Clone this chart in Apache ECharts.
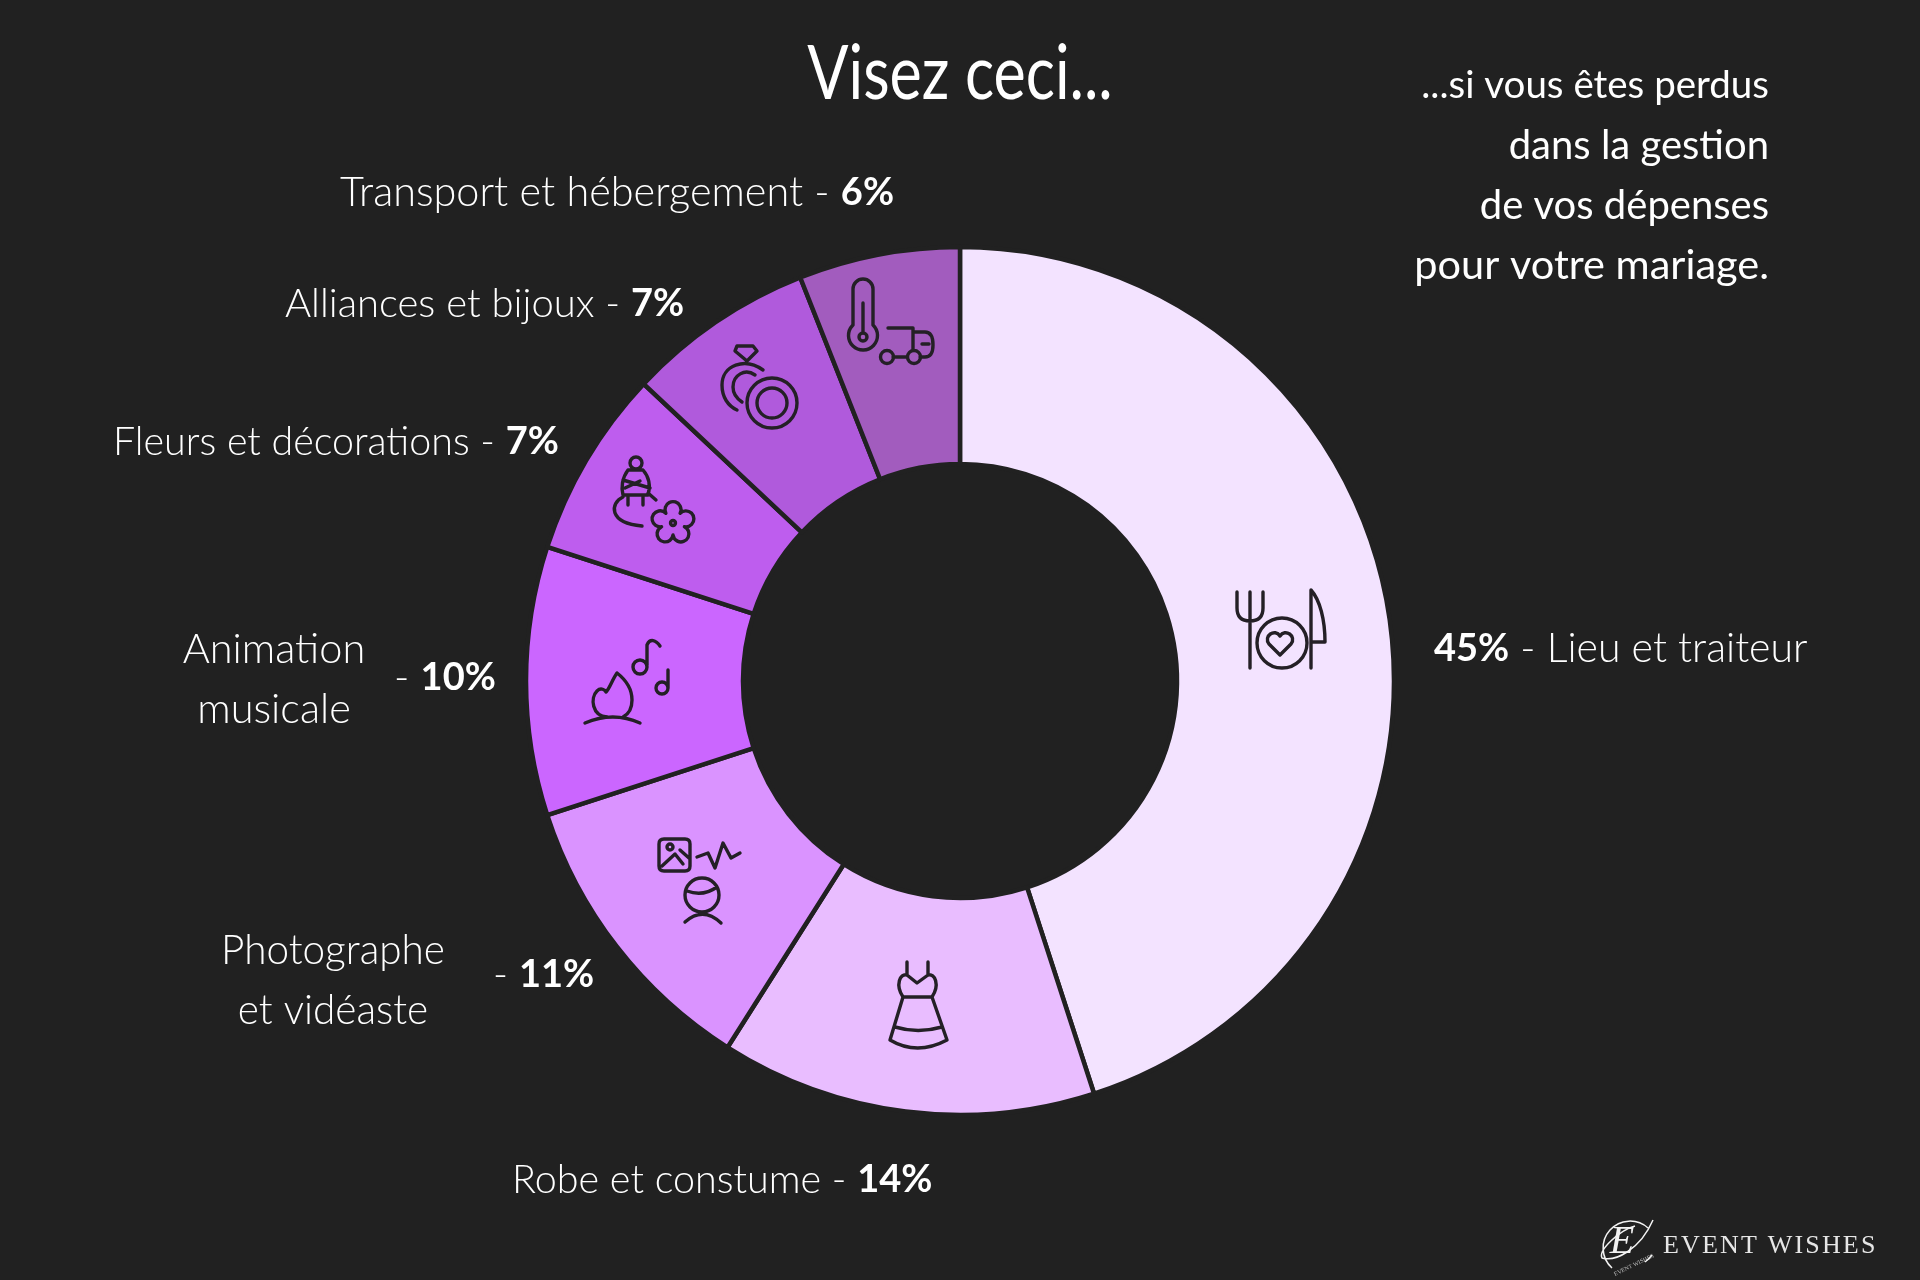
<!DOCTYPE html>
<html>
<head>
<meta charset="utf-8">
<title>Visez ceci...</title>
<script src="https://cdn.jsdelivr.net/npm/echarts@6/dist/echarts.min.js"></script>
<style>
html, body { margin: 0; padding: 0; background: #212121; }
#chart { width: 1920px; height: 1280px; }
</style>
</head>
<body>
<div id="chart"></div>
<script>
// donnees
var categories = ['Lieu et traiteur', 'Robe et constume', 'Photographe\net vidéaste', 'Animation\nmusicale', 'Fleurs et décorations', 'Alliances et bijoux', 'Transport et hébergement'];
var shares = [45, 14, 11, 10, 7, 7, 6];
var sliceColors = ['#f3e3ff', '#e9bdff', '#da93ff', '#cb66ff', '#be5dee', '#b05adc', '#a25cbe'];

// textes
var titleText = 'Visez ceci...';
var noteLines = ['...si vous êtes perdus', 'dans la gestion', 'de vos dépenses', 'pour votre mariage.'];
var noteSizes = [38.5, 40, 40, 41.5];
var brandText = 'EVENT WISHES';

var textFont = 'Lato';
var bgColor = '#212121';
var iconColor = '#242026';

// position des etiquettes : x, y, size, ou name (2 lignes) + x, y du pourcentage
var labelPlaces = [
    {x: 1434, y: 649, size: 41},
    {x: 512, y: 1180, size: 39.5},
    {nameX: 333, nameY: 981, x: 493, y: 975, size: 40.5},
    {nameX: 274, nameY: 680, x: 394, y: 678, size: 41.5},
    {x: 113, y: 442, size: 39.4},
    {x: 285, y: 304, size: 40},
    {x: 340, y: 193, size: 41.4}
];

function circ(cx, cy, r) {
    return 'M' + (cx - r) + ' ' + cy + 'a' + r + ' ' + r + ' 0 1 1 ' + (2 * r) + ' 0a' + r + ' ' + r + ' 0 1 1 ' + (-2 * r) + ' 0Z';
}

// fleur a cinq petales pour l'icone decoration
function flower(cx, cy, R, r) {
    var d = '';
    for (var i = 0; i <= 5; i++) {
        var a = -Math.PI / 2 + Math.PI / 5 + i * 2 * Math.PI / 5;
        var x = (cx + R * Math.cos(a)).toFixed(1);
        var y = (cy + R * Math.sin(a)).toFixed(1);
        d += i === 0 ? 'M' + x + ' ' + y : 'A' + r + ' ' + r + ' 0 1 1 ' + x + ' ' + y;
    }
    return d + 'Z';
}

// pictogrammes poses sur chaque part
var iconPaths = [
    // couverts
    'M1237 592V608Q1237 621 1250 621Q1263 621 1263 608V592M1250 592V668' + circ(1282, 643, 25) +
    'M1280 655L1269 644C1263 636 1275 628 1280 636C1285 628 1297 636 1291 644Z' +
    'M1311 668V590C1320 600 1325 620 1325 642H1313',
    // robe
    'M907 962V975M928 962V975M903 997C895 985 900 973 907 975L917 983L928 975C935 973 940 985 932 997Z' +
    'M903 997L890 1040Q917 1056 947 1040L932 997M895 1027Q918 1034 942 1027',
    // photo
    'M664 839H685Q690 839 690 844V866Q690 871 685 871H664Q659 871 659 866V844Q659 839 664 839Z' + circ(670, 847, 3) +
    'M662 866L675 854L683 864M680 850L689 858' +
    'M697 857L708 853L715 868L723 843L731 858L740 853' + circ(702, 895, 17) +
    'M687 891Q703 897 717 887M685 922Q703 906 721 923',
    // musique
    'M585 723Q613 711 640 723M607 717C592 716 590 698 597 691C601 687 605 690 606 692C610 688 612 680 617 673C626 680 632 690 632 700C632 708 629 714 623 717' +
    circ(640, 667, 7) + 'M647 665V645C650 638 656 640 660 646' + circ(662, 688, 6) + 'M668 688V670',
    // ampoule et fleur
    circ(636, 463, 6) + 'M628 470H643C650 478 650 488 648 495H623C621 488 622 478 628 470ZM623 480L650 488M625 488L640 481' +
    'M628 497V505M643 497V505M648 493L656 500M623 497C610 503 608 523 642 526' +
    flower(673, 523, 12, 8) + circ(673, 523, 2.5),
    // alliances
    'M737 346H753L757 351L747 361L735 351ZM763 370C745 357 722 365 722 385C722 397 728 406 737 410M755 375C745 368 733 375 733 387C733 393 736 398 742 402' +
    circ(772, 403, 25) + circ(772, 403, 15),
    // thermometre et camion
    'M853 325V289A10 10 0 0 1 873 289V325A14.5 14.5 0 1 1 853 325ZM863 303V333' + circ(863, 337, 4) +
    'M888 328H913V350M893 357H907M913 332H925Q933 332 933 345Q933 357 925 357H920M922 344H929' + circ(887, 357, 6.5) + circ(914, 357, 6.5)
];

function percentOf(i) {
    return shares[i] + '%';
}

var graphicItems = [];

function addText(text, x, y, size, weight, align, scaleY) {
    graphicItems.push({
        type: 'text',
        silent: true,
        x: x,
        y: y,
        scaleY: scaleY || 1,
        style: {
            text: text,
            fontFamily: textFont,
            fontWeight: weight,
            fontSize: size,
            fill: '#ffffff',
            align: align,
            verticalAlign: 'middle'
        }
    });
}

addText(titleText, 960, 74, 61, 400, 'center', 1.25);
for (var n = 0; n < noteLines.length; n++) {
    addText(noteLines[n], 1769, 86 + n * 60, noteSizes[n], 400, 'right');
}

// etiquettes des parts
categories.forEach(function (name, i) {
    var place = labelPlaces[i];
    var text;
    if (place.nameX) {
        name.split('\n').forEach(function (line, k) {
            addText(line, place.nameX, place.nameY + (k - 0.5) * 60, place.size, 300, 'center');
        });
        text = '{n|- }{p|' + percentOf(i) + '}';
    } else if (i === 0) {
        text = '{p|' + percentOf(i) + '}{n| - ' + name + '}';
    } else {
        text = '{n|' + name + ' - }{p|' + percentOf(i) + '}';
    }
    graphicItems.push({
        type: 'text',
        silent: true,
        x: place.x,
        y: place.y,
        style: {
            text: text,
            rich: {
                n: {fontFamily: textFont, fontWeight: 300, fontSize: place.size, fill: '#ffffff', color: '#ffffff'},
                p: {fontFamily: textFont, fontWeight: 700, fontSize: 38, fill: '#ffffff', color: '#ffffff'}
            },
            align: 'left',
            verticalAlign: 'middle'
        }
    });
});

// logo en bas a droite, lettres un peu espacees
graphicItems.push({
    type: 'text',
    silent: true,
    x: 1663,
    y: 1246,
    style: {text: brandText.split('').join('\u200a'), fontFamily: 'Liberation Serif', fontSize: 26, fill: '#e6e6e6', align: 'left', verticalAlign: 'middle'}
});
graphicItems.push({
    type: 'text',
    silent: true,
    x: 1622,
    y: 1242,
    style: {text: 'E', fontFamily: 'Liberation Serif', fontStyle: 'italic', fontSize: 40, fill: '#f2f2f2', align: 'center', verticalAlign: 'middle'}
});
graphicItems.push({
    type: 'text',
    silent: true,
    x: 1634,
    y: 1265,
    rotation: 0.45,
    style: {text: brandText, fontFamily: 'Liberation Serif', fontSize: 6, fill: '#bdbdbd', align: 'center', verticalAlign: 'middle'}
});

var chart = echarts.init(document.getElementById('chart'));
var option = {
    backgroundColor: bgColor,
    animation: false,
    graphic: {elements: graphicItems},
    series: [
        {
            type: 'pie',
            silent: true,
            center: [960, 681],
            radius: [217, 434],
            startAngle: 90,
            clockwise: true,
            label: {show: false},
            labelLine: {show: false},
            itemStyle: {borderColor: bgColor, borderWidth: 4.5},
            data: categories.map(function (name, i) {
                return {name: name, value: shares[i], itemStyle: {color: sliceColors[i]}};
            })
        },
        {
            type: 'custom',
            silent: true,
            coordinateSystem: 'none',
            z: 5,
            data: iconPaths.map(function (d, i) { return i; }),
            renderItem: function (params) {
                return {
                    type: 'path',
                    shape: {pathData: iconPaths[params.dataIndex]},
                    style: {fill: 'none', stroke: iconColor, lineWidth: 3.4, lineCap: 'round', lineJoin: 'round'}
                };
            }
        },
        {
            // cercle du logo
            type: 'custom',
            silent: true,
            coordinateSystem: 'none',
            z: 5,
            data: [0],
            renderItem: function () {
                return {
                    type: 'path',
                    shape: {pathData: 'M1648 1228A26 26 0 1 0 1612 1268M1652 1255A30 30 0 0 1 1645 1262M1653 1220C1640 1250 1615 1262 1602 1258C1598 1250 1620 1230 1635 1226'},
                    style: {fill: 'none', stroke: '#f2f2f2', lineWidth: 1.5}
                };
            }
        }
    ]
};
chart.setOption(option);
</script>
</body>
</html>
